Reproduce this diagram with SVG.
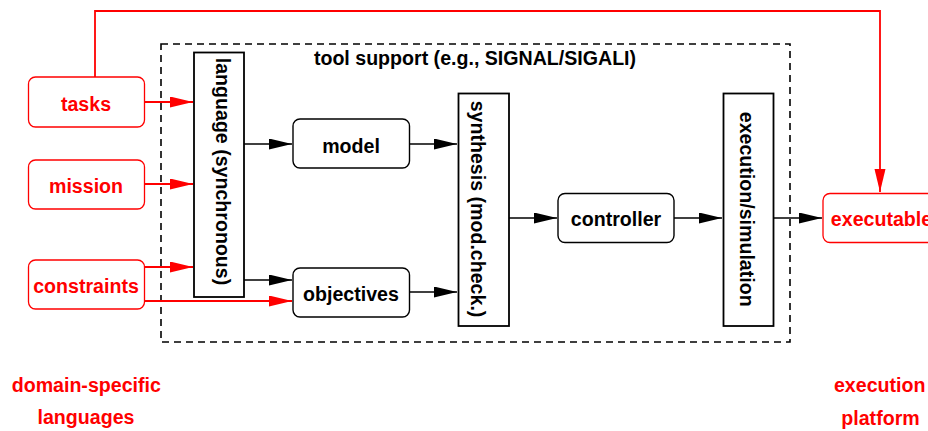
<svg xmlns="http://www.w3.org/2000/svg" width="928" height="431" viewBox="0 0 928 431">
<style>
text{font-family:"Liberation Sans",Arial,sans-serif;font-weight:bold;font-size:19.6px;text-anchor:middle}
.blk{fill:#000}
.red{fill:#ff0000}
.node{fill:#fff;stroke:#000;stroke-width:1.4}
.rnode{fill:#fff;stroke:#ff0000;stroke-width:1.3}
.bar{fill:#fff;stroke:#000;stroke-width:1.8}
.frame{fill:none;stroke:#000;stroke-width:1.6;stroke-dasharray:7 5}
.c{fill:none;stroke:#000;stroke-width:1.5}
.cr{fill:none;stroke:#ff0000;stroke-width:1.8}
</style>
<defs>
<marker id="ab" markerUnits="userSpaceOnUse" markerWidth="24" markerHeight="12" refX="23" refY="5.5" orient="auto"><path d="M0,0 L23,5.5 L0,11 z" fill="#000"/></marker>
<marker id="ar" markerUnits="userSpaceOnUse" markerWidth="24" markerHeight="12" refX="23" refY="5.5" orient="auto"><path d="M0,0 L23,5.5 L0,11 z" fill="#ff0000"/></marker>
</defs>
<rect width="928" height="431" fill="#fff"/>
<g id="tool-support">
<rect class="frame" x="161" y="44" width="629" height="298"/>
<text class="blk" x="475" y="65">tool support (e.g., SIGNAL/SIGALI)</text>
</g>
<g id="connectors">
<path class="cr" d="M144,102 H193" marker-end="url(#ar)"/>
<path class="cr" d="M144,184 H193" marker-end="url(#ar)"/>
<path class="cr" d="M144,267 H193" marker-end="url(#ar)"/>
<path class="cr" d="M144,301 H292" marker-end="url(#ar)"/>
<path class="cr" d="M95,77 V11 H880 V192" marker-end="url(#ar)"/>
<path class="c" d="M244,144 H292" marker-end="url(#ab)"/>
<path class="c" d="M244,280 H292" marker-end="url(#ab)"/>
<path class="c" d="M410,144 H457" marker-end="url(#ab)"/>
<path class="c" d="M410,292 H457" marker-end="url(#ab)"/>
<path class="c" d="M509,218 H557" marker-end="url(#ab)"/>
<path class="c" d="M674,218 H722" marker-end="url(#ab)"/>
<path class="c" d="M774,218 H822" marker-end="url(#ab)"/>
</g>
<g id="tasks">
<rect class="rnode" x="28.5" y="77" width="116" height="50" rx="7"/>
<text class="red" x="86" y="110.5">tasks</text>
</g>
<g id="mission">
<rect class="rnode" x="28.5" y="160" width="116" height="49" rx="7"/>
<text class="red" x="86" y="192.7">mission</text>
</g>
<g id="constraints">
<rect class="rnode" x="28.5" y="260" width="116" height="49" rx="7"/>
<text class="red" x="86" y="292.7">constraints</text>
</g>
<g id="language">
<rect class="bar" x="194" y="52.5" width="50" height="244.5"/>
<text class="blk" transform="translate(216,171.5) rotate(90)" x="0" y="0">language (synchronous)</text>
</g>
<g id="model">
<rect class="node" x="293" y="119" width="116.5" height="49" rx="7"/>
<text class="blk" x="351" y="152.5">model</text>
</g>
<g id="objectives">
<rect class="node" x="293" y="268" width="116.5" height="49" rx="7"/>
<text class="blk" x="351" y="300.7">objectives</text>
</g>
<g id="synthesis">
<rect class="bar" x="458.5" y="93.5" width="50.5" height="232.5"/>
<text class="blk" transform="translate(471,209) rotate(90)" x="0" y="0">synthesis (mod.check.)</text>
</g>
<g id="controller">
<rect class="node" x="558" y="193.5" width="116" height="49" rx="7"/>
<text class="blk" x="616" y="226">controller</text>
</g>
<g id="execution-simulation">
<rect class="bar" x="723.5" y="93.5" width="50" height="232.5"/>
<text class="blk" transform="translate(739.5,209.2) rotate(90)" x="0" y="0">execution/simulation</text>
</g>
<g id="executable">
<rect class="rnode" x="823" y="193.5" width="118" height="49" rx="7"/>
<text class="red" x="881.5" y="225.5">executable</text>
</g>
<g id="labels">
<text class="red" x="86.3" y="392.3">domain-specific</text>
<text class="red" x="86" y="424">languages</text>
<text class="red" x="879.7" y="392">execution</text>
<text class="red" x="880.5" y="424.5">platform</text>
</g>
</svg>
